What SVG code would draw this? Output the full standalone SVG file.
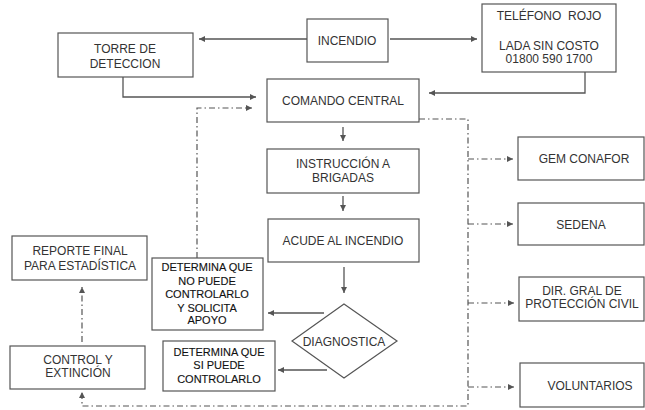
<svg xmlns="http://www.w3.org/2000/svg" width="645" height="410" viewBox="0 0 645 410">
<defs>
<style>
.box{fill:#fff;stroke:#555;stroke-width:1.2}
.t{font-family:"Liberation Sans",Arial,sans-serif;font-size:12px;fill:#333;text-anchor:middle}
.s{font-family:"Liberation Sans",Arial,sans-serif;font-size:11px;fill:#111;stroke:#111;stroke-width:0.12;text-anchor:middle}
.ln{fill:none;stroke:#555;stroke-width:1.3}
.dd{fill:none;stroke:#555;stroke-width:1.2;stroke-dasharray:6 3 1.5 3}
</style>
<marker id="ah" viewBox="0 0 10 10" refX="10" refY="5" markerWidth="7" markerHeight="6" markerUnits="userSpaceOnUse" orient="auto">
<path d="M0,0 L10,5 L0,10 z" fill="#555"/>
</marker>
</defs>
<rect width="645" height="410" fill="#fff"/>
<g id="connectors">
<path class="ln" d="M307,39 H199" marker-end="url(#ah)"/>
<path class="ln" d="M390,39 H477" marker-end="url(#ah)"/>
<path class="ln" d="M123,77 V97 H256" marker-end="url(#ah)"/>
<path class="ln" d="M585,72 V93 H429" marker-end="url(#ah)"/>
<path class="ln" d="M343,127 V141" marker-end="url(#ah)"/>
<path class="ln" d="M343,196 V211" marker-end="url(#ah)"/>
<path class="ln" d="M344,267 V293" marker-end="url(#ah)"/>
<path class="ln" d="M324,313 H268" marker-end="url(#ah)"/>
<path class="ln" d="M327,370 H278" marker-end="url(#ah)"/>
<path class="dd" d="M197,258 V108 H252" marker-end="url(#ah)"/>
<path class="dd" d="M419,119 H468 V406 H82 V392" marker-end="url(#ah)"/>
<path class="dd" d="M468,159 H513" marker-end="url(#ah)"/>
<path class="dd" d="M468,224 H513" marker-end="url(#ah)"/>
<path class="dd" d="M468,303 H514" marker-end="url(#ah)"/>
<path class="dd" d="M468,387 H514" marker-end="url(#ah)"/>
<path class="dd" d="M82,342 V287" marker-end="url(#ah)"/>
</g>
<g id="incendio"><rect class="box" x="307" y="19" width="81" height="43"/><text class="t" x="347" y="45">INCENDIO</text></g>
<g id="torre"><rect class="box" x="58" y="33" width="135" height="44"/><text class="t" x="125" y="53">TORRE DE</text><text class="t" x="125" y="68">DETECCION</text></g>
<g id="telefono"><rect class="box" x="482" y="4" width="134" height="68"/><text class="t" x="549" y="20" xml:space="preserve" style="white-space:pre">TELÉFONO  ROJO</text><text class="t" x="549" y="50">LADA SIN COSTO</text><text class="t" x="549" y="63">01800 590 1700</text></g>
<g id="comando"><rect class="box" x="267" y="79" width="152" height="43"/><text class="t" x="343" y="105">COMANDO CENTRAL</text></g>
<g id="instruccion"><rect class="box" x="267" y="149" width="152" height="44"/><text class="t" x="343" y="168">INSTRUCCIÓN A</text><text class="t" x="343" y="182">BRIGADAS</text></g>
<g id="acude"><rect class="box" x="268" y="219" width="151" height="43"/><text class="t" x="343" y="245">ACUDE AL INCENDIO</text></g>
<g id="diagnostica"><polygon class="box" points="344,304 397,341 344,378 292,341"/><text class="t" x="344" y="346">DIAGNOSTICA</text></g>
<g id="no-puede"><rect class="box" x="152" y="258" width="111" height="72"/><text class="s" x="207" y="271">DETERMINA QUE</text><text class="s" x="207" y="285">NO PUEDE</text><text class="s" x="207" y="298">CONTROLARLO</text><text class="s" x="207" y="312">Y SOLICITA</text><text class="s" x="207" y="324">APOYO</text></g>
<g id="si-puede"><rect class="box" x="163" y="341" width="112" height="50"/><text class="s" x="219" y="356">DETERMINA QUE</text><text class="s" x="219" y="369">SI PUEDE</text><text class="s" x="219" y="383">CONTROLARLO</text></g>
<g id="reporte"><rect class="box" x="12" y="236" width="135" height="44"/><text class="t" x="80" y="255">REPORTE FINAL</text><text class="t" x="80" y="270">PARA ESTADÍSTICA</text></g>
<g id="control"><rect class="box" x="10" y="346" width="135" height="43"/><text class="t" x="78" y="364">CONTROL Y</text><text class="t" x="78" y="377">EXTINCIÓN</text></g>
<g id="gem"><rect class="box" x="518" y="137" width="126" height="43"/><text class="t" x="584" y="163">GEM CONAFOR</text></g>
<g id="sedena"><rect class="box" x="518" y="203" width="126" height="42"/><text class="t" x="581" y="229">SEDENA</text></g>
<g id="dir"><rect class="box" x="519" y="277" width="125" height="44"/><text class="t" x="582" y="295">DIR. GRAL DE</text><text class="t" x="582" y="308">PROTECCIÓN CIVIL</text></g>
<g id="voluntarios"><rect class="box" x="520" y="363" width="124" height="44"/><text class="t" x="590" y="390">VOLUNTARIOS</text></g>
</svg>
